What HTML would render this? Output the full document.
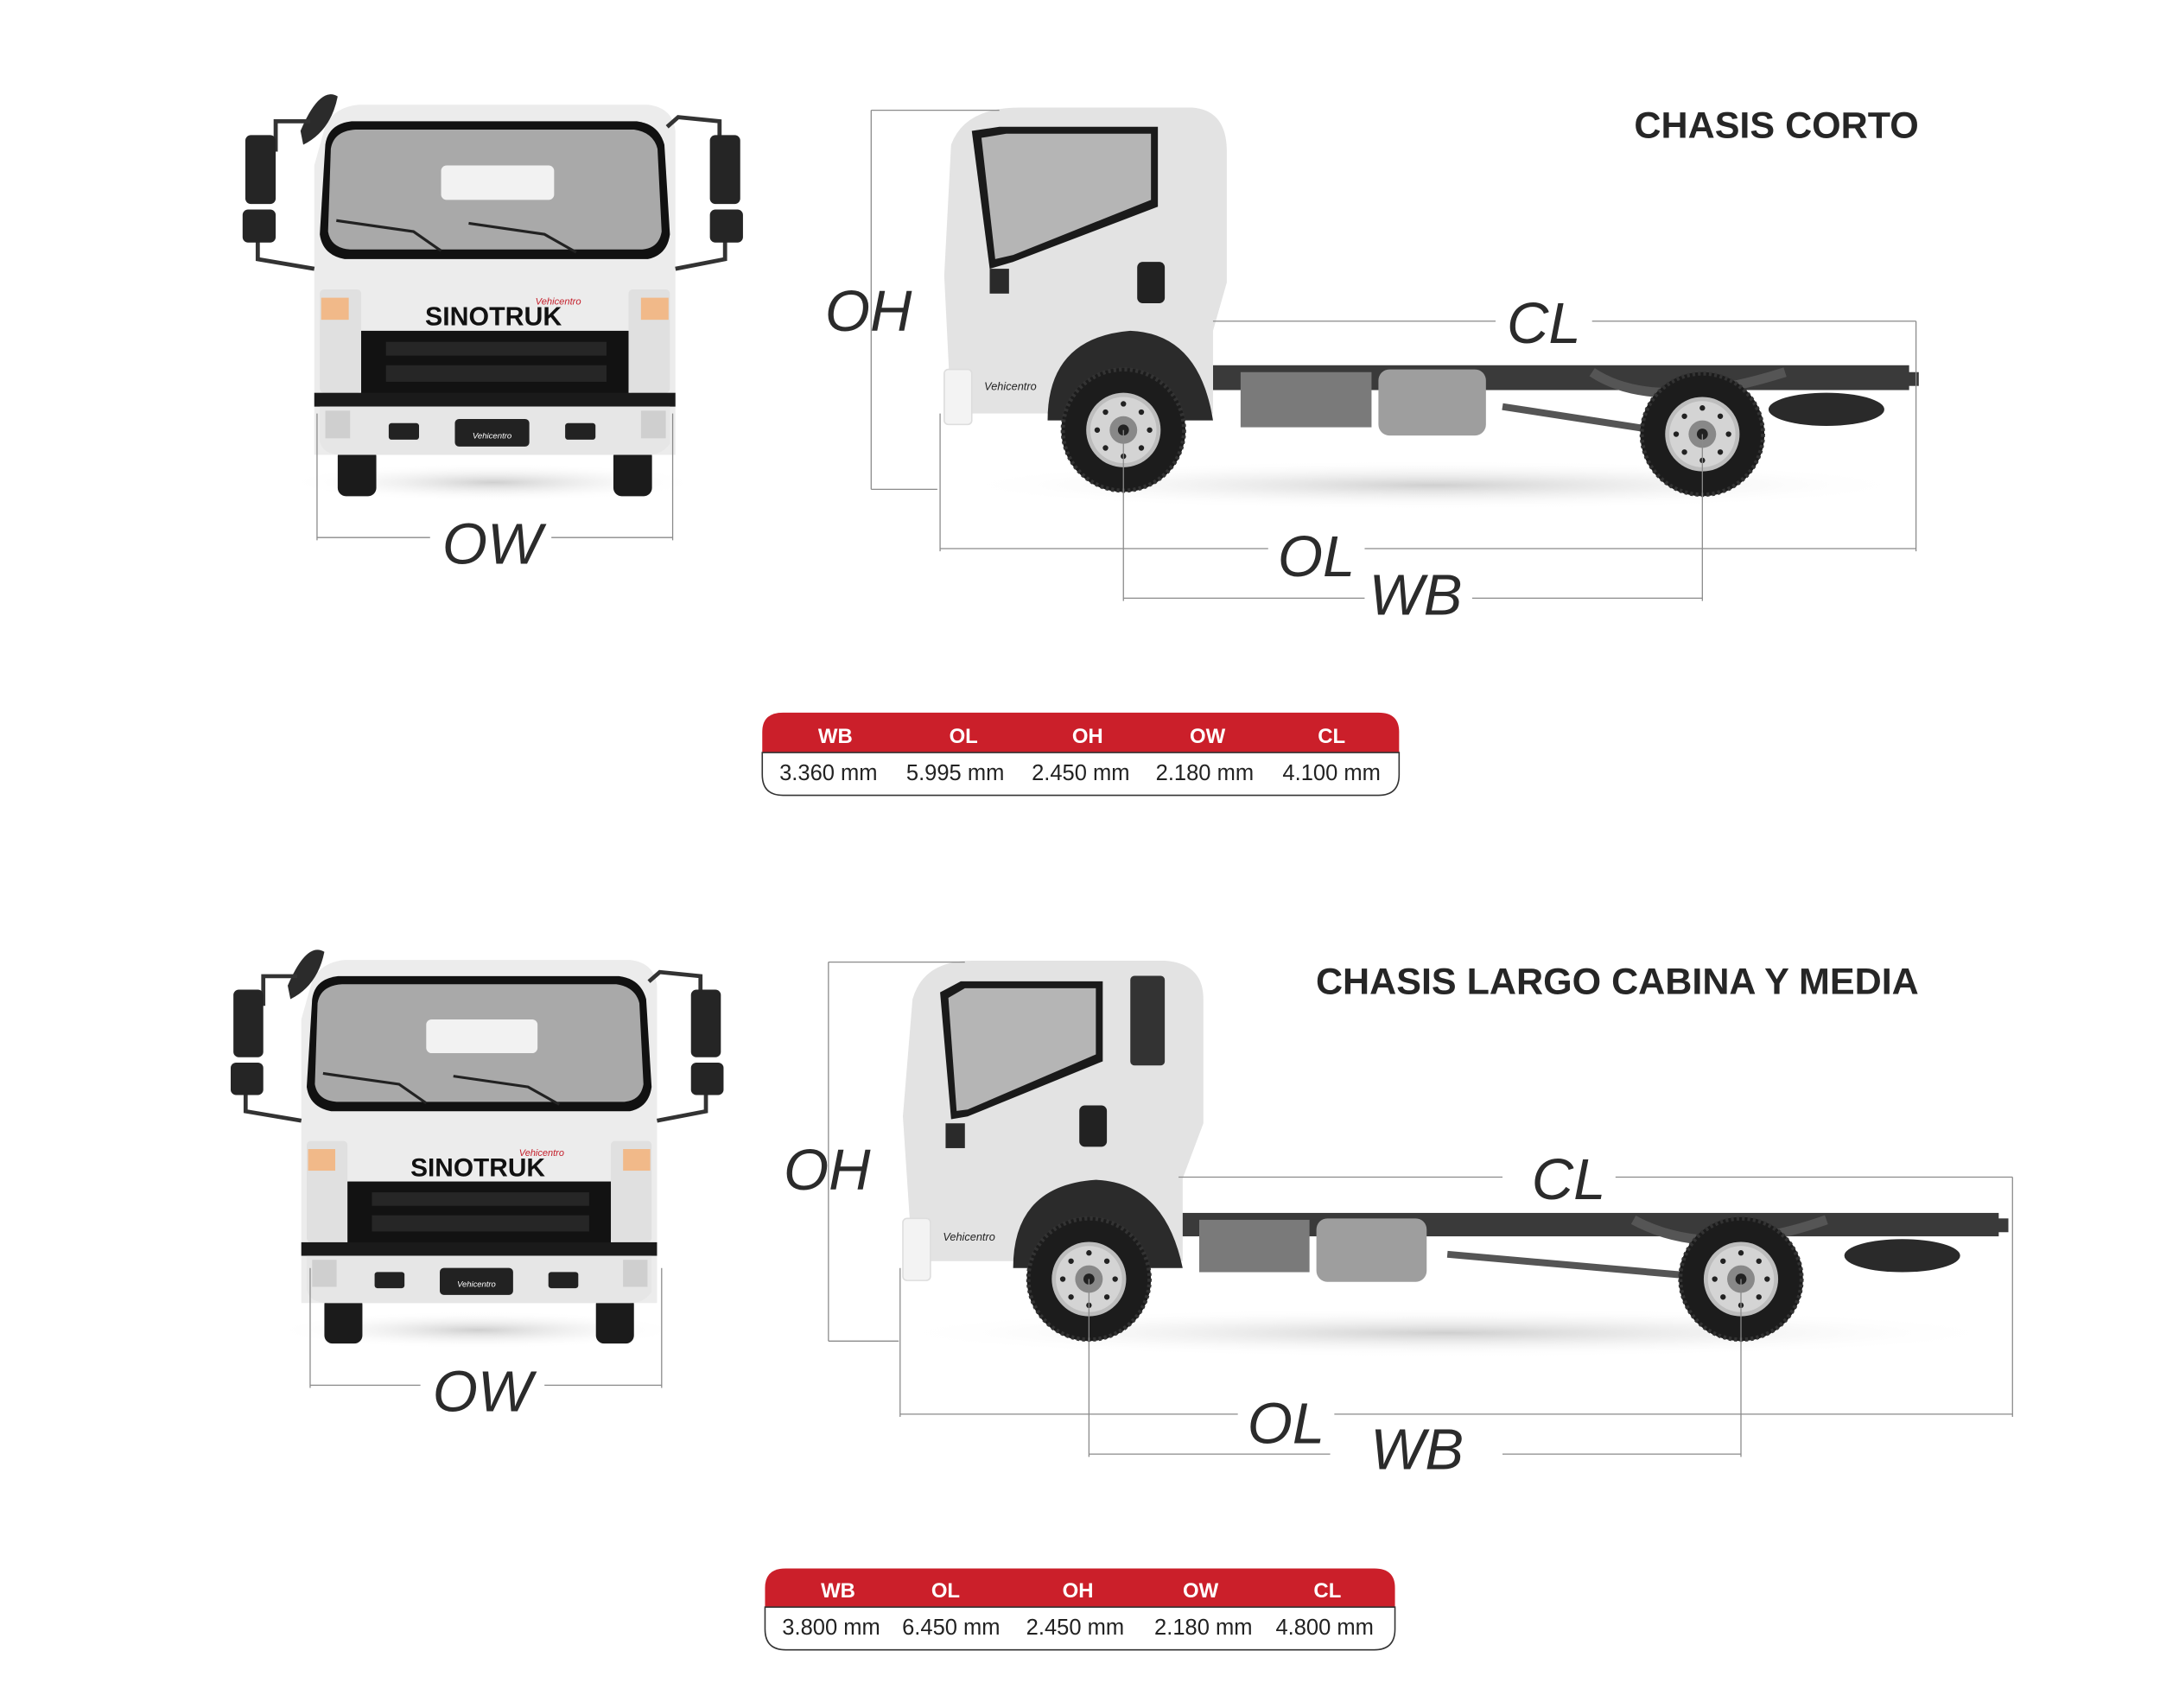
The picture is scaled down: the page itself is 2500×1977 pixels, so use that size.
<!DOCTYPE html>
<html><head><meta charset="utf-8"><style>
html,body{margin:0;padding:0;background:#fff}
svg{display:block}
.dim{stroke:#8a8a8a;stroke-width:0.8;fill:none}
.lbl{font-family:"Liberation Sans",sans-serif;font-style:italic;font-size:42px;fill:#2b2b2b}
.ttl{font-family:"Liberation Sans",sans-serif;font-weight:bold;font-size:27px;fill:#262626}
.th{font-family:"Liberation Sans",sans-serif;font-weight:bold;font-size:15px;fill:#fff}
.td{font-family:"Liberation Sans",sans-serif;font-size:16px;fill:#222}
</style></head><body>
<svg width="2500" height="1977" viewBox="0 0 1567 1239.2" preserveAspectRatio="none" xmlns="http://www.w3.org/2000/svg">
<defs>
<g id="wheel">
<circle r="45" fill="#1c1c1c"/>
<circle r="44" fill="none" stroke="#333" stroke-width="3" stroke-dasharray="2 2"/>
<circle r="27" fill="#bdbdbd"/>
<circle r="24" fill="#d4d4d4"/>
<circle r="10" fill="#888"/>
<circle r="4" fill="#222"/>
<g fill="#222"><circle cx="0" cy="-19" r="2"/><circle cx="0" cy="19" r="2"/><circle cx="-19" cy="0" r="2"/><circle cx="19" cy="0" r="2"/><circle cx="13" cy="13" r="2"/><circle cx="-13" cy="13" r="2"/><circle cx="13" cy="-13" r="2"/><circle cx="-13" cy="-13" r="2"/></g>
</g>
<radialGradient id="shadow" cx="0.5" cy="0.5" r="0.5"><stop offset="0" stop-color="#cfcfcf"/><stop offset="1" stop-color="#fff" stop-opacity="0"/></radialGradient>
<g id="front">
<ellipse cx="358" cy="350" rx="150" ry="14" fill="url(#shadow)"/>
<rect x="245" y="325" width="28" height="35" rx="6" fill="#1b1b1b"/>
<rect x="445" y="325" width="28" height="35" rx="6" fill="#1b1b1b"/>
<path d="M235 95 Q240 78 260 76 L470 76 Q488 78 490 95 L490 330 L228 330 L228 120 Z" fill="#ececec"/>
<path d="M236 105 Q238 90 255 88 L462 88 Q478 90 482 105 L486 170 Q484 185 470 188 L250 188 Q234 185 232 170 Z" fill="#111"/>
<path d="M240 108 Q242 95 258 94 L460 94 Q474 96 477 108 L480 168 Q478 180 466 181 L254 181 Q240 180 238 168 Z" fill="#a9a9a9"/>
<rect x="320" y="120" width="82" height="25" rx="4" fill="#f2f2f2"/>
<path d="M244 160 L300 168 L320 182 M340 162 L395 170 L418 183" stroke="#222" stroke-width="2" fill="none"/>
<rect x="232" y="210" width="30" height="75" rx="3" fill="#e0e0e0"/>
<rect x="456" y="210" width="30" height="75" rx="3" fill="#e0e0e0"/>
<rect x="233" y="216" width="20" height="16" fill="#f1b989"/>
<rect x="465" y="216" width="20" height="16" fill="#f1b989"/>
<text x="358" y="236" text-anchor="middle" font-family="Liberation Sans,sans-serif" font-weight="bold" font-size="19" fill="#111">SINOTRUK</text>
<text x="405" y="221" text-anchor="middle" font-family="Liberation Sans,sans-serif" font-style="italic" font-size="7" fill="#c41e2a">Vehicentro</text>
<rect x="262" y="240" width="194" height="50" fill="#121212"/>
<rect x="280" y="248" width="160" height="10" fill="#262626"/>
<rect x="280" y="265" width="160" height="12" fill="#262626"/>
<rect x="228" y="285" width="262" height="10" fill="#1a1a1a"/>
<path d="M232 295 L486 295 L486 322 Q480 330 470 330 L248 330 Q234 330 232 320 Z" fill="#e6e6e6"/>
<rect x="330" y="304" width="54" height="20" rx="3" fill="#222"/>
<text x="357" y="318" text-anchor="middle" font-family="Liberation Sans,sans-serif" font-style="italic" font-size="6" fill="#fff">Vehicentro</text>
<rect x="282" y="307" width="22" height="12" rx="2" fill="#222"/>
<rect x="410" y="307" width="22" height="12" rx="2" fill="#222"/>
<rect x="236" y="298" width="18" height="20" fill="#cfcfcf"/>
<rect x="465" y="298" width="18" height="20" fill="#cfcfcf"/>
<path d="M218 95 Q232 62 245 70 Q240 95 220 105 Z" fill="#2b2b2b"/>
<path d="M200 110 L200 88 L225 88 M187 175 L187 188 L228 195" stroke="#333" stroke-width="3" fill="none"/>
<rect x="178" y="98" width="22" height="50" rx="4" fill="#252525"/>
<rect x="176" y="152" width="24" height="24" rx="4" fill="#252525"/>
<path d="M484 92 L492 85 L522 88 L522 100 M526 175 L526 188 L490 195" stroke="#333" stroke-width="3" fill="none"/>
<rect x="515" y="98" width="22" height="50" rx="4" fill="#252525"/>
<rect x="515" y="152" width="24" height="24" rx="4" fill="#252525"/>
</g>
</defs>

<use href="#front"/>
<path class="dim" d="M230 300 L230 392 M488 300 L488 392 M230 390 L312 390 M400 390 L488 390"/>
<text class="lbl" x="357" y="409" text-anchor="middle">OW</text>

<text class="ttl" x="1392" y="100" text-anchor="end">CHASIS CORTO</text>
<ellipse cx="1040" cy="352" rx="350" ry="18" fill="url(#shadow)"/>
<rect x="880" y="265" width="505" height="18" fill="#3a3a3a"/>
<rect x="1380" y="270" width="12" height="10" fill="#3a3a3a"/>
<rect x="1000" y="268" width="78" height="48" rx="8" fill="#9e9e9e"/>
<rect x="900" y="270" width="95" height="40" fill="#7a7a7a"/>
<path d="M1090 295 L1200 312" stroke="#555" stroke-width="5"/>
<ellipse cx="1325" cy="297" rx="42" ry="12" fill="#2a2a2a"/>
<path d="M1155 270 Q1200 300 1295 270" stroke="#555" stroke-width="7" fill="none"/>
<path d="M690 105 Q700 78 740 78 L865 78 Q890 80 890 110 L890 205 L880 240 L880 300 L690 300 L685 200 Z" fill="#e3e3e3"/>
<path d="M705 95 L725 92 L840 92 L840 150 L735 190 L718 195 Z" fill="#1a1a1a"/>
<path d="M712 100 L730 97 L835 97 L835 145 L735 185 L722 188 Z" fill="#b5b5b5"/>
<rect x="825" y="190" width="20" height="30" rx="4" fill="#222"/>
<rect x="718" y="195" width="14" height="18" fill="#2a2a2a"/>
<path d="M760 305 Q760 245 820 240 Q870 242 880 305 Z" fill="#2b2b2b"/>
<rect x="685" y="268" width="20" height="40" rx="3" fill="#f3f3f3" stroke="#ddd"/>
<text x="733" y="283" text-anchor="middle" font-family="Liberation Sans,sans-serif" font-style="italic" font-size="8" fill="#222">Vehicentro</text>
<use href="#wheel" x="815" y="312"/>
<use href="#wheel" x="1235" y="315"/>
<path class="dim" d="M632 80 L632 355 M632 80 L725 80 M632 355 L680 355"/>
<text class="lbl" x="630" y="240" text-anchor="middle">OH</text>
<path class="dim" d="M880 233 L1085 233 M1155 233 L1390 233 M1390 233 L1390 400"/>
<text class="lbl" x="1120" y="249" text-anchor="middle">CL</text>
<path class="dim" d="M682 300 L682 400 M682 398 L920 398 M990 398 L1390 398"/>
<text class="lbl" x="955" y="418" text-anchor="middle">OL</text>
<path class="dim" d="M815 312 L815 436 M1235 315 L1235 436 M815 434 L990 434 M1068 434 L1235 434"/>
<text class="lbl" x="1027" y="446" text-anchor="middle">WB</text>

<path d="M553 531 Q553 517 568 517 L1000 517 Q1015 517 1015 531 L1015 546 L553 546 Z" fill="#cb1f2a"/>
<path d="M553 546 L1015 546 L1015 562 Q1015 577 1000 577 L568 577 Q553 577 553 562 Z" fill="#fff" stroke="#333" stroke-width="1"/>
<g class="th" text-anchor="middle"><text x="606" y="539">WB</text><text x="699" y="539">OL</text><text x="789" y="539">OH</text><text x="876" y="539">OW</text><text x="966" y="539">CL</text></g>
<g class="td" text-anchor="middle"><text x="601" y="566">3.360 mm</text><text x="693" y="566">5.995 mm</text><text x="784" y="566">2.450 mm</text><text x="874" y="566">2.180 mm</text><text x="966" y="566">4.100 mm</text></g>

<g transform="translate(-6,622) scale(0.985 0.98)"><use href="#front"/></g>
<path class="dim" d="M225 920 L225 1007 M480 920 L480 1007 M225 1005 L305 1005 M395 1005 L480 1005"/>
<text class="lbl" x="350" y="1024" text-anchor="middle">OW</text>

<text class="ttl" x="1392" y="721" text-anchor="end">CHASIS LARGO CABINA Y MEDIA</text>
<ellipse cx="1050" cy="967" rx="410" ry="18" fill="url(#shadow)"/>
<rect x="855" y="880" width="595" height="17" fill="#3a3a3a"/>
<rect x="1445" y="884" width="12" height="10" fill="#3a3a3a"/>
<rect x="955" y="884" width="80" height="46" rx="8" fill="#9e9e9e"/>
<rect x="870" y="885" width="80" height="38" fill="#7a7a7a"/>
<path d="M1050 910 L1220 925" stroke="#555" stroke-width="5"/>
<ellipse cx="1380" cy="911" rx="42" ry="12" fill="#2a2a2a"/>
<path d="M1185 885 Q1240 915 1325 885" stroke="#555" stroke-width="7" fill="none"/>
<path d="M662 725 Q670 697 705 697 L845 697 Q873 699 873 725 L873 815 L858 855 L858 915 L662 915 L655 810 Z" fill="#e3e3e3"/>
<path d="M682 720 L697 712 L800 712 L800 770 L702 810 L690 812 Z" fill="#1a1a1a"/>
<path d="M688 724 L700 717 L795 717 L795 765 L702 805 L694 806 Z" fill="#b5b5b5"/>
<rect x="820" y="708" width="25" height="65" rx="3" fill="#333"/>
<rect x="783" y="802" width="20" height="30" rx="4" fill="#222"/>
<rect x="686" y="815" width="14" height="18" fill="#2a2a2a"/>
<path d="M735 920 Q735 860 795 856 Q845 858 858 920 Z" fill="#2b2b2b"/>
<rect x="655" y="884" width="20" height="45" rx="3" fill="#f3f3f3" stroke="#ddd"/>
<text x="703" y="900" text-anchor="middle" font-family="Liberation Sans,sans-serif" font-style="italic" font-size="8" fill="#222">Vehicentro</text>
<use href="#wheel" x="790" y="928"/>
<use href="#wheel" x="1263" y="928"/>
<path class="dim" d="M601 698 L601 973 M601 698 L700 698 M601 973 L652 973"/>
<text class="lbl" x="600" y="863" text-anchor="middle">OH</text>
<path class="dim" d="M855 854 L1090 854 M1172 854 L1460 854 M1460 854 L1460 1028"/>
<text class="lbl" x="1138" y="870" text-anchor="middle">CL</text>
<path class="dim" d="M653 920 L653 1028 M653 1026 L898 1026 M968 1026 L1460 1026"/>
<text class="lbl" x="933" y="1047" text-anchor="middle">OL</text>
<path class="dim" d="M790 928 L790 1057 M1263 928 L1263 1057 M790 1055 L965 1055 M1090 1055 L1263 1055"/>
<text class="lbl" x="1028" y="1066" text-anchor="middle">WB</text>

<path d="M555 1152 Q555 1138 570 1138 L997 1138 Q1012 1138 1012 1152 L1012 1166 L555 1166 Z" fill="#cb1f2a"/>
<path d="M555 1166 L1012 1166 L1012 1182 Q1012 1197 997 1197 L570 1197 Q555 1197 555 1182 Z" fill="#fff" stroke="#333" stroke-width="1"/>
<g class="th" text-anchor="middle"><text x="608" y="1159">WB</text><text x="686" y="1159">OL</text><text x="782" y="1159">OH</text><text x="871" y="1159">OW</text><text x="963" y="1159">CL</text></g>
<g class="td" text-anchor="middle"><text x="603" y="1186">3.800 mm</text><text x="690" y="1186">6.450 mm</text><text x="780" y="1186">2.450 mm</text><text x="873" y="1186">2.180 mm</text><text x="961" y="1186">4.800 mm</text></g>
</svg>
</body></html>
